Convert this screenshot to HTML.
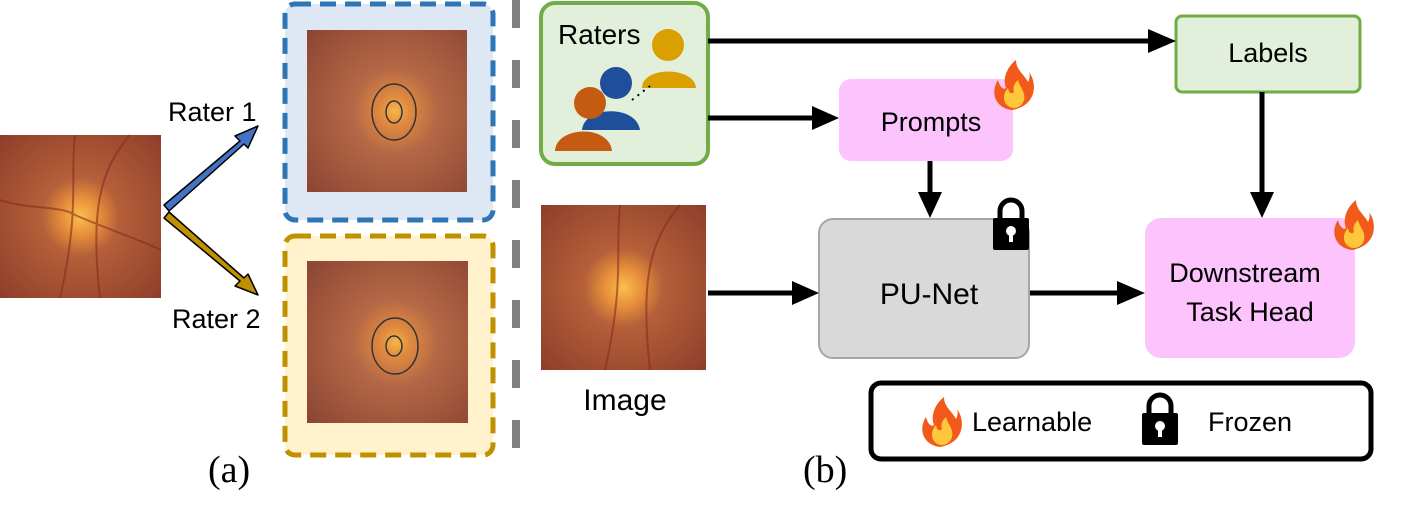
<!DOCTYPE html>
<html><head><meta charset="utf-8"><style>
body{margin:0;background:#fff;}
svg{display:block;font-family:"Liberation Sans",sans-serif;}
</style></head><body>
<svg width="1412" height="527" viewBox="0 0 1412 527" xmlns="http://www.w3.org/2000/svg">
<defs>
<radialGradient id="fund" cx="0.5" cy="0.5" r="0.75">
<stop offset="0" stop-color="#f8c050"/><stop offset="0.15" stop-color="#e8903a"/><stop offset="0.32" stop-color="#b5603a"/><stop offset="1" stop-color="#8a3a28"/>
</radialGradient>
<radialGradient id="fund2" cx="0.55" cy="0.5" r="0.75">
<stop offset="0" stop-color="#f6b64a"/><stop offset="0.12" stop-color="#e08a40"/><stop offset="0.35" stop-color="#b56846"/><stop offset="1" stop-color="#8a4432"/>
</radialGradient>
<g id="fire"><path d="M22,50 C5,48 0,32 8,20 C10,28 14,30 16,28 C12,18 18,6 26,0 C26,10 34,14 38,22 C40,18 40,14 39,12 C48,24 46,46 22,50z" fill="#f25a1c"/><path d="M23,48 C12,46 12,34 18,28 C19,34 22,34 24,32 C22,26 26,22 28,20 C30,28 36,32 34,40 C32,46 28,48 23,48z" fill="#ffc83a"/></g>
<g id="lock"><path d="M9,20 V13 A11,11 0 0 1 31,13 V20" fill="none" stroke="#000" stroke-width="5"/><rect x="2" y="20" width="36" height="32" rx="2"/><circle cx="20" cy="33" r="5" fill="#fff"/><rect x="18" y="35" width="4" height="9" fill="#fff"/></g>
</defs>

<!-- left fundus -->
<rect x="0" y="135" width="161" height="163" fill="url(#fund)"/>
<g stroke="#8a2a20" stroke-width="2" fill="none" opacity="0.6"><path d="M75,135 C70,180 80,210 60,298"/><path d="M130,135 C100,170 90,210 100,298"/><path d="M0,200 C30,210 60,205 75,215"/><path d="M75,215 C110,230 140,240 161,250"/></g>

<!-- arrows a -->
<path d="M164,205 L240,141 L235,136 L258,126 L248,148 L244,144 L169,211z" fill="#4472c4" stroke="#000" stroke-width="1.5" stroke-linejoin="round"/>
<path d="M164,218 L240,281 L235,286 L258,295 L248,274 L244,278 L169,212z" fill="#bf9000" stroke="#000" stroke-width="1.5" stroke-linejoin="round"/>
<text x="168" y="121" font-size="27">Rater 1</text>
<text x="172" y="328" font-size="27">Rater 2</text>

<!-- blue box -->
<rect x="285" y="4" width="208" height="216" rx="10" fill="#dde8f4" stroke="#2e75b6" stroke-width="5" stroke-dasharray="16,9"/>
<rect x="307" y="30" width="160" height="162" fill="url(#fund2)"/>
<ellipse cx="394" cy="112" rx="22" ry="28" fill="none" stroke="#333" stroke-width="1.5"/>
<ellipse cx="394" cy="112" rx="8" ry="11" fill="none" stroke="#333" stroke-width="1.5"/>
<!-- gold box -->
<rect x="285" y="236" width="208" height="219" rx="10" fill="#fff2cc" stroke="#bf9000" stroke-width="5" stroke-dasharray="16,9"/>
<rect x="307" y="261" width="161" height="162" fill="url(#fund2)"/>
<ellipse cx="395" cy="346" rx="23" ry="28" fill="none" stroke="#333" stroke-width="1.5"/>
<ellipse cx="394" cy="346" rx="8" ry="10" fill="none" stroke="#333" stroke-width="1.5"/>
<text x="208" y="482" font-size="38" font-family="Liberation Serif,serif">(a)</text>

<!-- divider -->
<line x1="516" y1="0" x2="516" y2="462" stroke="#808080" stroke-width="8" stroke-dasharray="28,32"/>

<!-- Raters -->
<rect x="541" y="3" width="167" height="161" rx="14" fill="#e2efda" stroke="#70ad47" stroke-width="4"/>
<text x="558" y="44" font-size="28">Raters</text>
<circle cx="668" cy="45" r="16" fill="#d9a000"/><path d="M642,88 C642,66 694,66 696,88z" fill="#d9a000"/>
<circle cx="616" cy="83" r="16" fill="#1f4e9b"/><path d="M582,130 C584,106 636,104 640,130z" fill="#1f4e9b"/>
<circle cx="590" cy="103" r="16" fill="#c55a11"/><path d="M555,151 C556,126 609,124 612,151z" fill="#c55a11"/>
<path d="M632,100 L650,86" stroke="#000" stroke-width="2" stroke-dasharray="2,5"/>

<!-- Labels -->
<rect x="1176" y="16" width="184" height="76" rx="6" fill="#e2efda" stroke="#70ad47" stroke-width="3"/>
<text x="1268" y="62" font-size="27" text-anchor="middle">Labels</text>

<!-- Prompts -->
<rect x="839" y="79" width="174" height="82" rx="12" fill="#fcc3fc"/>
<text x="931" y="131" font-size="27" text-anchor="middle">Prompts</text>
<use href="#fire" x="990" y="60"/>

<!-- PU-Net -->
<rect x="819" y="219" width="210" height="139" rx="14" fill="#d9d9d9" stroke="#a6a6a6" stroke-width="2"/>
<text x="929" y="304" font-size="30" text-anchor="middle">PU-Net</text>
<use href="#lock" x="991" y="198"/>

<!-- Downstream -->
<rect x="1145" y="218" width="210" height="140" rx="16" fill="#fcc3fc"/>
<text x="1245" y="282" font-size="27" text-anchor="middle">Downstream</text>
<text x="1250" y="321" font-size="27" text-anchor="middle">Task Head</text>
<use href="#fire" x="1330" y="200"/>

<!-- Image -->
<rect x="541" y="205" width="165" height="165" fill="url(#fund)"/>
<g stroke="#8a2a20" stroke-width="2" fill="none" opacity="0.6"><path d="M620,205 C615,250 625,280 605,370"/><path d="M680,205 C650,240 640,280 650,370"/></g>
<text x="625" y="410" font-size="30" text-anchor="middle">Image</text>

<!-- connectors -->
<g stroke="#000" stroke-width="5" fill="none">
<line x1="708" y1="41" x2="1150" y2="41"/>
<line x1="708" y1="118" x2="815" y2="118"/>
<line x1="930" y1="161" x2="930" y2="195"/>
<line x1="1262" y1="92" x2="1262" y2="195"/>
<line x1="708" y1="293" x2="795" y2="293"/>
<line x1="1030" y1="293" x2="1120" y2="293"/>
</g>
<g fill="#000">
<path d="M1148,29 L1176,41 L1148,53z"/>
<path d="M812,106 L839,118 L812,130z"/>
<path d="M918,192 L930,218 L942,192z"/>
<path d="M1250,192 L1262,218 L1274,192z"/>
<path d="M792,281 L819,293 L792,305z"/>
<path d="M1117,281 L1145,293 L1117,305z"/>
</g>

<!-- legend -->
<rect x="871" y="383" width="500" height="76" rx="10" fill="#fff" stroke="#000" stroke-width="5"/>
<use href="#fire" x="918" y="397"/>
<text x="972" y="431" font-size="27">Learnable</text>
<use href="#lock" x="1140" y="393"/>
<text x="1208" y="431" font-size="27">Frozen</text>
<text x="803" y="482" font-size="38" font-family="Liberation Serif,serif">(b)</text>
</svg>
</body></html>
